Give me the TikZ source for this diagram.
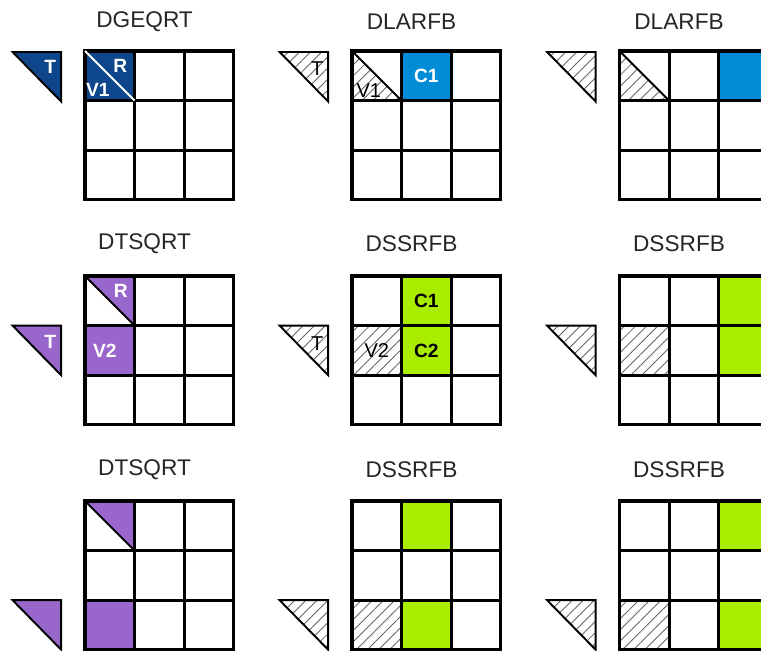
\documentclass[tikz,border=0pt]{standalone}
\usepackage{fontspec}
\setmainfont{Liberation Sans}
\usetikzlibrary{patterns.meta}
\definecolor{qrdarkblue}{RGB}{14,70,140}
\definecolor{qrblue}{RGB}{0,140,214}
\definecolor{qrpurple}{RGB}{153,102,204}
\definecolor{qrgreen}{RGB}{170,236,0}
\tikzset{
    % the 3x3 tile matrix
    tilegrid/.style={line width=1.8pt, black, line cap=rect},
    % small T factor triangle beside a matrix
    tfactor/.style={draw=black, line width=1.1pt, line join=miter},
    % diagonal splitting a tile into V and R
    tilediag/.style={line width=1.1pt, black},
    % hatched = T / V only read by the update
    hatched/.style={pattern={Lines[angle=45,distance=4.5pt,line width=0.5pt]},
                    pattern color=black!60},
    % kernel name above each matrix
    kernelname/.style={font=\fontsize{13}{15}\selectfont, text=black!85},
    % tile labels
    whitelabel/.style={font=\bfseries\fontsize{11}{13}\selectfont, text=white, inner sep=0pt},
    blacklabel/.style={font=\bfseries\fontsize{11}{13}\selectfont, text=black, inner sep=0pt},
    hatchlabel/.style={font=\fontsize{11.5}{13}\selectfont, text=black, inner sep=0pt},
}

\begin{document}
\begin{tikzpicture}[x=1cm,y=-1cm]
  \useasboundingbox (0,0) rectangle (15.343,13.125);
  \clip (0,0) rectangle (15.343,13.125);

  % ---- row 1: factor the first tile, update its row
  \begin{scope}[shift={(1.714,1.028)}]
    \fill[qrdarkblue] (0,0) rectangle (1,1);
    \draw[tfactor, fill=qrdarkblue] (-1.46,0.02) -- (-0.48,0.02) -- (-0.48,1.02) -- cycle;
    \draw[tilegrid] (0,0) grid (3,3) (0,0) rectangle (3,3);
    \draw[tilediag, white] (0,0) -- (1,1);
    \node[kernelname] (k11) at (1.2,-0.6) {DGEQRT};
    \node[whitelabel] (t11) at (-0.7,0.32) {T};
    \node[whitelabel] (r11) at (0.71,0.3) {R};
    \node[whitelabel] (v11) at (0.26,0.79) {V1};
  \end{scope}
  \begin{scope}[shift={(7.097,1.028)}]
    \fill[qrblue] (1,0) rectangle (2,1);
    \fill[hatched] (0,0) -- (0,1) -- (1,1) -- cycle;
    \draw[tfactor, hatched] (-1.46,0.02) -- (-0.48,0.02) -- (-0.48,1.02) -- cycle;
    \draw[tilegrid] (0,0) grid (3,3) (0,0) rectangle (3,3);
    \draw[tilediag] (0,0) -- (1,1);
    \node[kernelname] (k12) at (1.2,-0.6) {DLARFB};
    \node[hatchlabel] (t12) at (-0.7,0.36) {T};
    \node[hatchlabel] (v12) at (0.34,0.79) {V1};
    \node[whitelabel] (c12) at (1.5,0.5) {C1};
  \end{scope}
  \begin{scope}[shift={(12.49,1.028)}]
    \fill[qrblue] (2,0) rectangle (3,1);
    \fill[hatched] (0,0) -- (0,1) -- (1,1) -- cycle;
    \draw[tfactor, hatched] (-1.46,0.02) -- (-0.48,0.02) -- (-0.48,1.02) -- cycle;
    \draw[tilegrid] (0,0) grid (3,3) (0,0) rectangle (3,3);
    \draw[tilediag] (0,0) -- (1,1);
    \node[kernelname] (k13) at (1.2,-0.6) {DLARFB};
  \end{scope}

  % ---- row 2: couple R with the second tile, update both rows
  \begin{scope}[shift={(1.714,5.565)}]
    \fill[qrpurple] (0,0) -- (1,0) -- (1,1) -- cycle;
    \fill[qrpurple] (0,1) rectangle (1,2);
    \draw[tfactor, fill=qrpurple] (-1.46,1) -- (-0.48,1) -- (-0.48,2) -- cycle;
    \draw[tilegrid] (0,0) grid (3,3) (0,0) rectangle (3,3);
    \draw[tilediag] (0,0) -- (1,1);
    \node[kernelname] (k21) at (1.2,-0.65) {DTSQRT};
    \node[whitelabel] (t21) at (-0.7,1.32) {T};
    \node[whitelabel] (r21) at (0.72,0.3) {R};
    \node[whitelabel] (v21) at (0.4,1.5) {V2};
  \end{scope}
  \begin{scope}[shift={(7.097,5.565)}]
    \fill[qrgreen] (1,0) rectangle (2,2);
    \fill[hatched] (0,1) rectangle (1,2);
    \draw[tfactor, hatched] (-1.46,1) -- (-0.48,1) -- (-0.48,2) -- cycle;
    \draw[tilegrid] (0,0) grid (3,3) (0,0) rectangle (3,3);
    \node[kernelname] (k22) at (1.2,-0.65) {DSSRFB};
    \node[hatchlabel] (t22) at (-0.7,1.36) {T};
    \node[hatchlabel] (v22) at (0.5,1.5) {V2};
    \node[blacklabel] (c22a) at (1.5,0.5) {C1};
    \node[blacklabel] (c22b) at (1.5,1.5) {C2};
  \end{scope}
  \begin{scope}[shift={(12.49,5.565)}]
    \fill[qrgreen] (2,0) rectangle (3,2);
    \fill[hatched] (0,1) rectangle (1,2);
    \draw[tfactor, hatched] (-1.46,1) -- (-0.48,1) -- (-0.48,2) -- cycle;
    \draw[tilegrid] (0,0) grid (3,3) (0,0) rectangle (3,3);
    \node[kernelname] (k23) at (1.2,-0.65) {DSSRFB};
  \end{scope}

  % ---- row 3: couple R with the third tile, update rows 1 and 3
  \begin{scope}[shift={(1.714,10.10)}]
    \fill[qrpurple] (0,0) -- (1,0) -- (1,1) -- cycle;
    \fill[qrpurple] (0,2) rectangle (1,3);
    \draw[tfactor, fill=qrpurple] (-1.46,2) -- (-0.48,2) -- (-0.48,3) -- cycle;
    \draw[tilegrid] (0,0) grid (3,3) (0,0) rectangle (3,3);
    \draw[tilediag] (0,0) -- (1,1);
    \node[kernelname] (k31) at (1.2,-0.63) {DTSQRT};
  \end{scope}
  \begin{scope}[shift={(7.097,10.10)}]
    \fill[qrgreen] (1,0) rectangle (2,1);
    \fill[qrgreen] (1,2) rectangle (2,3);
    \fill[hatched] (0,2) rectangle (1,3);
    \draw[tfactor, hatched] (-1.46,2) -- (-0.48,2) -- (-0.48,3) -- cycle;
    \draw[tilegrid] (0,0) grid (3,3) (0,0) rectangle (3,3);
    \node[kernelname] (k32) at (1.2,-0.63) {DSSRFB};
  \end{scope}
  \begin{scope}[shift={(12.49,10.10)}]
    \fill[qrgreen] (2,0) rectangle (3,1);
    \fill[qrgreen] (2,2) rectangle (3,3);
    \fill[hatched] (0,2) rectangle (1,3);
    \draw[tfactor, hatched] (-1.46,2) -- (-0.48,2) -- (-0.48,3) -- cycle;
    \draw[tilegrid] (0,0) grid (3,3) (0,0) rectangle (3,3);
    \node[kernelname] (k33) at (1.2,-0.63) {DSSRFB};
  \end{scope}
\end{tikzpicture}
\end{document}
